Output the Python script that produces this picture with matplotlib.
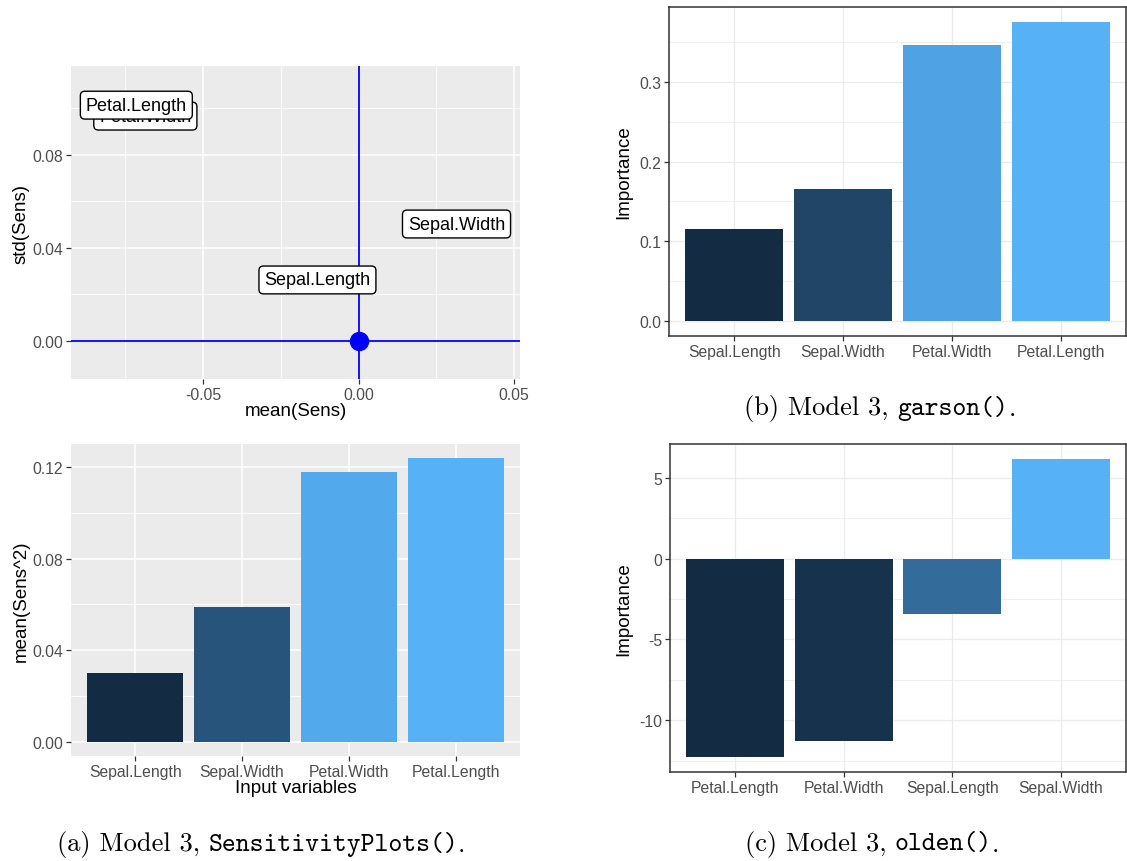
import matplotlib
matplotlib.use("Agg")
import matplotlib.pyplot as plt
import numpy as np
from matplotlib.colors import LinearSegmentedColormap, Normalize
from matplotlib.ticker import FixedLocator

plt.rcParams['font.family'] = ['Liberation Sans', 'DejaVu Sans']
plt.rcParams['axes.unicode_minus'] = False

#********************************************
# DATA

# (a) top: mean / std of sensitivities
label_vars = ["Petal.Width", "Petal.Length", "Sepal.Width", "Sepal.Length"]
mean_sens = [-0.0685, -0.0714, 0.0315, -0.0132]
std_sens = [0.0965, 0.1012, 0.0502, 0.0262]

# (a) bottom: mean(Sens^2)
sq_vars = ["Sepal.Length", "Sepal.Width", "Petal.Width", "Petal.Length"]
sq_vals = [0.0302, 0.0591, 0.1178, 0.1239]

# (b) garson
garson_vars = ["Sepal.Length", "Sepal.Width", "Petal.Width", "Petal.Length"]
garson_vals = [0.115, 0.166, 0.346, 0.375]

# (c) olden
olden_vars = ["Petal.Length", "Petal.Width", "Sepal.Length", "Sepal.Width"]
olden_vals = [-12.28, -11.3, -3.4, 6.17]

#********************************************

W, H = 1127, 862
fig = plt.figure(figsize=(W / 100, H / 100), dpi=100)

def box(x0, y0, x1, y1):
    # pixel box -> figure fraction
    return [x0 / W, 1 - y1 / H, (x1 - x0) / W, (y1 - y0) / H]

ggcmap = LinearSegmentedColormap.from_list("gg", ["#132B43", "#56B1F7"])
tick_col = "#4D4D4D"
TICK_FS = 11.3
TITLE_FS = 13.5


def gg_gray(ax):
    ax.set_facecolor("#EBEBEB")
    for s in ax.spines.values():
        s.set_visible(False)
    ax.grid(True, which="major", color="white", lw=1.1)
    ax.grid(True, which="minor", color="white", lw=0.6)
    ax.set_axisbelow(True)
    ax.tick_params(which="major", length=3.5, width=0.9, color="#333333",
                   labelsize=TICK_FS, labelcolor=tick_col, pad=2)
    ax.tick_params(which="minor", length=0)


def gg_bw(ax):
    ax.set_facecolor("white")
    for s in ax.spines.values():
        s.set_color("#333333")
        s.set_linewidth(1.1)
    ax.grid(True, which="major", color="#EBEBEB", lw=1.0)
    ax.grid(True, which="minor", color="#EBEBEB", lw=0.6)
    ax.set_axisbelow(True)
    ax.tick_params(which="major", length=3.5, width=0.9, color="#333333",
                   labelsize=TICK_FS, labelcolor=tick_col, pad=2)
    ax.tick_params(which="minor", length=0)


def bars(ax, names, vals):
    x = np.arange(len(names))
    norm = Normalize(min(vals), max(vals))
    ax.bar(x, vals, width=0.9, color=[ggcmap(norm(v)) for v in vals], zorder=2)
    ax.set_xticks(x)
    ax.set_xticklabels(names)
    ax.set_xlim(-0.6, len(names) - 0.4)
    lo, hi = min(0, min(vals)), max(0, max(vals))
    pad = (hi - lo) * 0.05
    ax.set_ylim(lo - pad, hi + pad)


#********************************************
# (a) top: scatter with labels
ax1 = fig.add_axes(box(71, 67, 520, 380))
gg_gray(ax1)
ax1.set_xlim(-0.0924, 0.0519)
ax1.set_ylim(-0.0163, 0.118)
ax1.set_xticks([-0.05, 0.0, 0.05])
ax1.set_xticklabels(["-0.05", "0.00", "0.05"])
ax1.xaxis.set_minor_locator(FixedLocator([-0.075, -0.025, 0.025]))
ax1.set_yticks([0.0, 0.04, 0.08])
ax1.set_yticklabels(["0.00", "0.04", "0.08"])
ax1.yaxis.set_minor_locator(FixedLocator([0.02, 0.06, 0.10]))
ax1.axhline(0, color="#0000FF", lw=1.3, zorder=3)
ax1.axvline(0, color="#0000FF", lw=1.3, zorder=3)
ax1.plot([0], [0], "o", color="#0000FF", ms=13, zorder=4)
for name, mx, sy in zip(label_vars, mean_sens, std_sens):
    ax1.text(mx, sy, name, ha="center", va="center", fontsize=13, zorder=5,
             bbox=dict(boxstyle="round,pad=0.3,rounding_size=0.25",
                       fc="white", ec="black", lw=1.0))
ax1.set_xlabel("mean(Sens)", fontsize=TITLE_FS, labelpad=0)
ax1.set_ylabel("std(Sens)", fontsize=TITLE_FS, labelpad=2)

#********************************************
# (a) bottom: mean(Sens^2)
ax2 = fig.add_axes(box(71, 445, 520, 757))
gg_gray(ax2)
bars(ax2, sq_vars, sq_vals)
ax2.set_yticks([0.0, 0.04, 0.08, 0.12])
ax2.set_yticklabels(["0.00", "0.04", "0.08", "0.12"])
ax2.yaxis.set_minor_locator(FixedLocator([0.02, 0.06, 0.10]))
ax2.set_xlabel("Input variables", fontsize=TITLE_FS, labelpad=0)
ax2.set_ylabel("mean(Sens^2)", fontsize=TITLE_FS, labelpad=2)

#********************************************
# (b) garson
ax3 = fig.add_axes(box(669, 8, 1126, 337))
gg_bw(ax3)
bars(ax3, garson_vars, garson_vals)
ax3.set_yticks([0.0, 0.1, 0.2, 0.3])
ax3.set_yticklabels(["0.0", "0.1", "0.2", "0.3"])
ax3.yaxis.set_minor_locator(FixedLocator([0.05, 0.15, 0.25, 0.35]))
ax3.set_ylabel("Importance", fontsize=TITLE_FS, labelpad=5)

#********************************************
# (c) olden
ax4 = fig.add_axes(box(670, 445, 1126, 773))
gg_bw(ax4)
bars(ax4, olden_vars, olden_vals)
ax4.set_yticks([-10, -5, 0, 5])
ax4.set_yticklabels(["-10", "-5", "0", "5"])
ax4.yaxis.set_minor_locator(FixedLocator([-12.5, -7.5, -2.5, 2.5]))
ax4.set_ylabel("Importance", fontsize=TITLE_FS, labelpad=5)

#********************************************
# captions: roman text + typewriter function name, pieced together
renderer = fig.canvas.get_renderer()

def caption(cx, cy, pre, code, post="."):
    parts = [(pre, "cmr10"), (code, "cmtt10"), (post, "cmr10")]
    texts = [fig.text(0, 1 - cy / H, s, family=f, fontsize=19, va="center", ha="left")
             for s, f in parts]
    widths = [t.get_window_extent(renderer).width for t in texts]
    x = cx - sum(widths) / 2
    for t, w in zip(texts, widths):
        t.set_x(x / W)
        x += w

caption(261, 845, "(a) Model 3, ", "SensitivityPlots()")
caption(880, 409, "(b) Model 3, ", "garson()")
caption(872, 845, "(c) Model 3, ", "olden()")

fig.savefig("out.png", dpi=100)
